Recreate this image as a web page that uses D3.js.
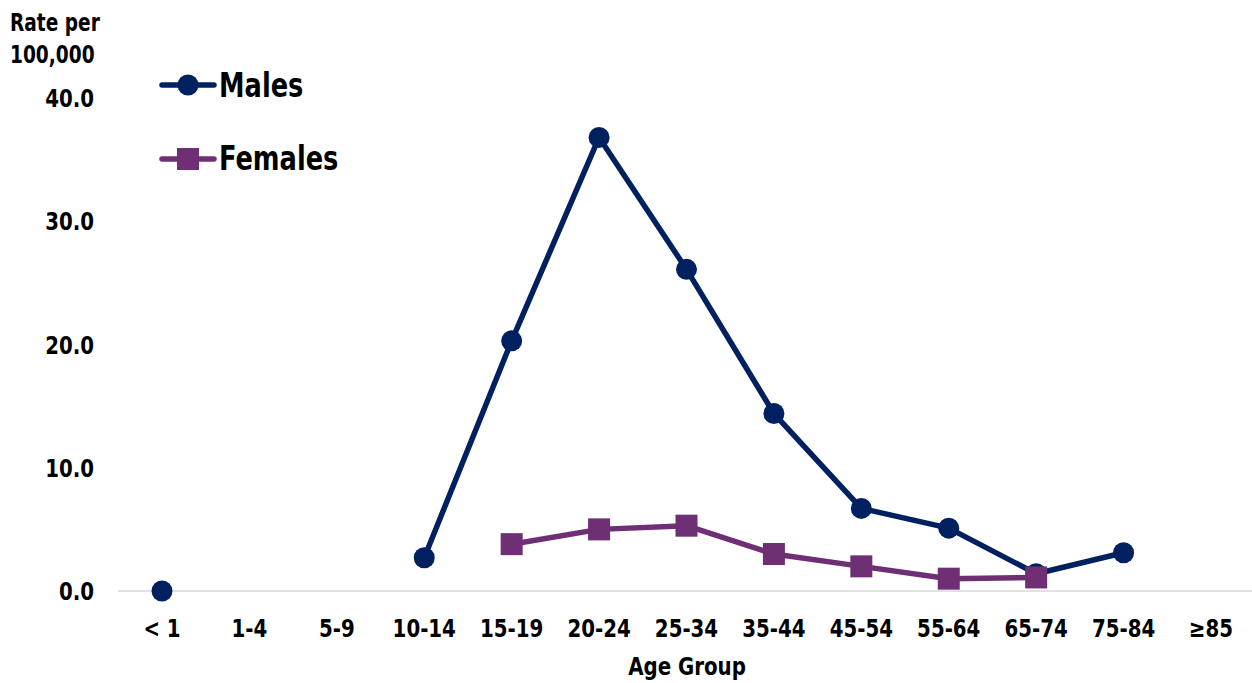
<!DOCTYPE html>
<html>
<head>
<meta charset="utf-8">
<script src="https://cdn.jsdelivr.net/npm/d3@7"></script>
<style>
  body { margin: 0; background: #fff; }
  text { font-family: "DejaVu Sans Condensed", "Liberation Sans Narrow", sans-serif; font-weight: bold; fill: #000; }
</style>
</head>
<body>
<div id="chart"></div>
<script>
// age groups and rates (null = no value)
const ageGroups = ["< 1", "1-4", "5-9", "10-14", "15-19", "20-24", "25-34", "35-44", "45-54", "55-64", "65-74", "75-84", "\u226585"];
const males   = [0.0, null, null, 2.7, 20.3, 36.8, 26.1, 14.4, 6.7, 5.1, 1.4, 3.1, null];
const females = [null, null, null, null, 3.8, 5.0, 5.3, 3.0, 2.0, 1.0, 1.1, null, null];
const yTicks = [0, 10, 20, 30, 40];

const width = 1252, height = 683;
const navy = "#002060", purple = "#6f2f75";

const svg = d3.select("#chart").append("svg")
    .attr("width", width)
    .attr("height", height);

const x = d3.scalePoint()
    .domain(ageGroups)
    .range([162, 1211]);

const y = d3.scaleLinear()
    .domain([0, 40])
    .range([591, 98]);

// condensed-looking text: squeeze horizontally
function label(tx, ty, str, size, anchor, sx) {
  return svg.append("text")
      .attr("transform", `translate(${tx},${ty}) scale(${sx || 0.88},1)`)
      .attr("text-anchor", anchor || "start")
      .style("font-size", size + "px")
      .text(str);
}

// baseline
svg.append("line")
    .attr("x1", 118).attr("x2", 1252)
    .attr("y1", y(0)).attr("y2", y(0))
    .attr("stroke", "#d9d9d9")
    .attr("stroke-width", 1.5);

// y tick labels
yTicks.forEach(t => label(94, y(t) + 9, d3.format(".1f")(t), 25, "end"));

// x tick labels
ageGroups.forEach(g => label(x(g), 637, g, 25, "middle"));

// axis titles
label(10, 31, "Rate per", 24, "start", 0.86);
label(10, 63, "100,000", 24, "start", 0.86);
label(687, 675, "Age Group", 25, "middle");

function series(values, color, marker) {
  const pts = values.map((v, i) => ({ g: ageGroups[i], v: v }));
  const line = d3.line()
      .defined(d => d.v !== null)
      .x(d => x(d.g))
      .y(d => y(d.v));
  svg.append("path")
      .datum(pts)
      .attr("fill", "none")
      .attr("stroke", color)
      .attr("stroke-width", 5.5)
      .attr("stroke-linejoin", "round")
      .attr("d", line);
  const dots = pts.filter(d => d.v !== null);
  if (marker === "circle") {
    svg.selectAll(null).data(dots).enter().append("circle")
        .attr("cx", d => x(d.g)).attr("cy", d => y(d.v))
        .attr("r", 10.5).attr("fill", color);
  } else {
    svg.selectAll(null).data(dots).enter().append("rect")
        .attr("x", d => x(d.g) - 11).attr("y", d => y(d.v) - 11)
        .attr("width", 22).attr("height", 22).attr("fill", color);
  }
}

series(males, navy, "circle");
series(females, purple, "square");

// legend
const legend = [
  { name: "Males", color: navy, marker: "circle", y: 85, base: 97 },
  { name: "Females", color: purple, marker: "square", y: 159, base: 170 }
];
legend.forEach(l => {
  svg.append("line")
      .attr("x1", 162).attr("x2", 214)
      .attr("y1", l.y).attr("y2", l.y)
      .attr("stroke", l.color).attr("stroke-width", 5.5).attr("stroke-linecap", "round");
  if (l.marker === "circle") {
    svg.append("circle").attr("cx", 188).attr("cy", l.y).attr("r", 10.5).attr("fill", l.color);
  } else {
    svg.append("rect").attr("x", 177).attr("y", l.y - 11).attr("width", 22).attr("height", 22).attr("fill", l.color);
  }
  label(219, l.base, l.name, 34, "start", 0.84);
});
</script>
</body>
</html>
